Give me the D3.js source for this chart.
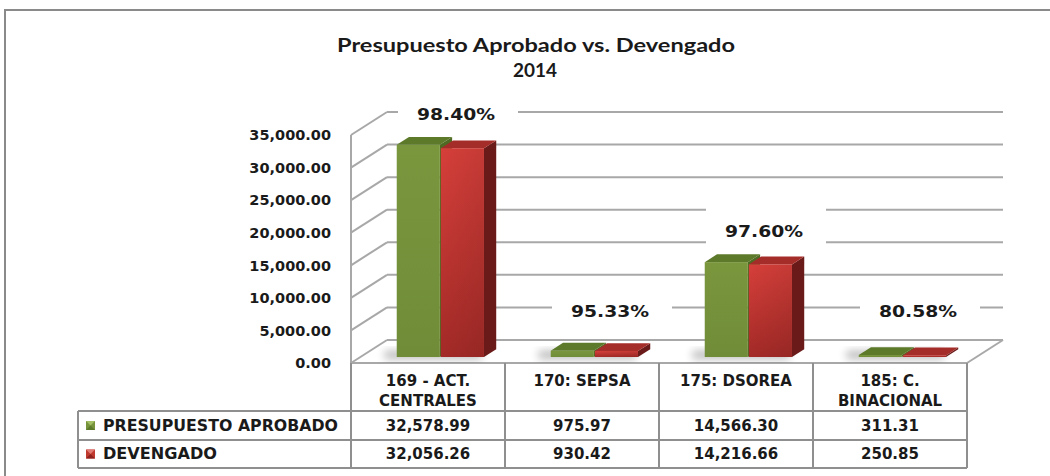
<!DOCTYPE html>
<html><head><meta charset="utf-8">
<script src="https://cdn.jsdelivr.net/npm/d3@7"></script>
<style>body{margin:0;background:#fff;}svg{display:block;}</style>
</head><body>
<svg id="c" width="1050" height="476"></svg>
<script>
const categories = [["169 - ACT.", "CENTRALES"], ["170: SEPSA"], ["175: DSOREA"], ["185: C.", "BINACIONAL"]];
const seriesNames = ["PRESUPUESTO APROBADO", "DEVENGADO"];
const aprobado = [32578.99, 975.97, 14566.30, 311.31];
const devengado = [32056.26, 930.42, 14216.66, 250.85];
const yTicks = [0, 5000, 10000, 15000, 20000, 25000, 30000, 35000];
const titleLines = ["Presupuesto Aprobado vs. Devengado", "2014"];

const svg = d3.select("#c");
const FONT = "'DejaVu Sans', Verdana, sans-serif";
const DX = 36, DY = 23;
const catKeys = categories.map((c, i) => "c" + i);
const x = d3.scaleBand().domain(catKeys).range([351, 967]).paddingInner(0);
const y = d3.scaleLinear().domain([0, 35000]).range([363, 135]);
const P = (px, v, z) => [px + z * DX, y(v) - z * DY];
const fmt = d3.format(",.2f");
const pct = d3.format(".2%");

const defs = svg.append("defs");
const gR = defs.append("linearGradient").attr("id", "gRed").attr("x1", 0).attr("y1", 0).attr("x2", 0).attr("y2", 1);
gR.append("stop").attr("offset", "0%").attr("stop-color", "#d63f3a");
gR.append("stop").attr("offset", "100%").attr("stop-color", "#a32a27");
const gRh = defs.append("linearGradient").attr("id", "gRedH").attr("x1", 0).attr("y1", 0).attr("x2", 1).attr("y2", 0);
gRh.append("stop").attr("offset", "0%").attr("stop-color", "#000").attr("stop-opacity", 0);
gRh.append("stop").attr("offset", "100%").attr("stop-color", "#000").attr("stop-opacity", 0.08);
const gG = defs.append("linearGradient").attr("id", "gGreen").attr("x1", 0).attr("y1", 0).attr("x2", 0).attr("y2", 1);
gG.append("stop").attr("offset", "0%").attr("stop-color", "#7a973e");
gG.append("stop").attr("offset", "100%").attr("stop-color", "#708c38");
const blur = defs.append("filter").attr("id", "blur").attr("x", "-50%").attr("y", "-50%").attr("width", "200%").attr("height", "200%");
blur.append("feGaussianBlur").attr("stdDeviation", 4);

// outer border
svg.append("rect").attr("x", 5).attr("y", 10).attr("width", 1060).attr("height", 480)
  .attr("fill", "none").attr("stroke", "#8a8a8a").attr("stroke-width", 2);

// title
const TF = "Lato, 'Open Sans', sans-serif";
svg.append("text").attr("x", 536).attr("y", 52).attr("text-anchor", "middle")
  .attr("font-family", TF).attr("font-weight", "bold").attr("font-size", 19)
  .attr("fill", "#1a1a1a").attr("textLength", 398).attr("lengthAdjust", "spacingAndGlyphs").text(titleLines[0]);
svg.append("text").attr("x", 535).attr("y", 77).attr("text-anchor", "middle")
  .attr("font-family", TF).attr("font-weight", "bold").attr("font-size", 19)
  .attr("fill", "#1a1a1a").attr("textLength", 44).attr("lengthAdjust", "spacingAndGlyphs").text(titleLines[1]);

const X0 = x.range()[0], X1 = x.range()[1];
const grid = svg.append("g").attr("stroke", "#a8a8a8").attr("stroke-width", 2).attr("fill", "none");
yTicks.forEach(v => {
  const a = P(X0, v, 0), b = P(X0, v, 1), c = P(X1, v, 1);
  grid.append("line").attr("x1", a[0]).attr("y1", a[1]).attr("x2", b[0]).attr("y2", b[1]);
  grid.append("line").attr("x1", b[0]).attr("y1", b[1]).attr("x2", c[0]).attr("y2", c[1]);
});
{
  const a = P(X0, 0, 0), b = P(X0, 35000, 0);
  grid.append("line").attr("x1", a[0]).attr("y1", a[1]).attr("x2", b[0]).attr("y2", b[1]);
  const c = P(X1, 0, 0), d = P(X1, 0, 1);
  grid.append("line").attr("x1", c[0]).attr("y1", c[1]).attr("x2", d[0]).attr("y2", d[1]);
  grid.append("line").attr("x1", a[0]).attr("y1", a[1]).attr("x2", c[0]).attr("y2", c[1]);
}

// y axis labels
svg.append("g").selectAll("text").data(yTicks).join("text")
  .attr("x", 331).attr("y", d => y(d)).attr("dy", "0.36em").attr("text-anchor", "end")
  .attr("font-family", FONT).attr("font-weight", "bold").attr("font-size", 14.5).attr("fill", "#1a1a1a")
  .text(d => fmt(d));

// percentage labels (with white masks)
const bw = x.bandwidth();
const lab = svg.append("g");
aprobado.forEach((v, i) => {
  const cx = x(catKeys[i]) + bw / 2 + 30;
  const ly = y(Math.max(v, 2300)) - 37;
  lab.append("rect").attr("x", cx - 60).attr("y", ly - 26).attr("width", 120).attr("height", 42).attr("fill", "#fff");
  lab.append("text").attr("x", cx - 2).attr("y", ly).attr("dy", "0.36em").attr("text-anchor", "middle")
    .attr("font-family", FONT).attr("font-weight", "bold").attr("font-size", 16).attr("fill", "#1a1a1a")
    .attr("textLength", 78).attr("lengthAdjust", "spacingAndGlyphs")
    .text(pct(devengado[i] / v));
});

// bars
const zf = 0.26, zb = 0.6;
const barW = bw * 0.28, gap = 1;
const bars = svg.append("g");
const colors = [
  {front: "url(#gGreen)", top: "#5d7a2b", side: "#4f6a22"},
  {front: "url(#gRed)", top: "#a52d29", side: "#6a1b19"}
];
const poly = pts => pts.map(p => p.join(",")).join(" ");
categories.forEach((c, i) => {
  const groupLeft = x(catKeys[i]) + (bw - 2 * barW - gap) / 2 + 3;
  {
    const a = P(groupLeft - 8, 0, zf + 0.05), b = P(groupLeft + 2 * barW + gap, 0, zf + 0.05);
    bars.append("rect").attr("x", a[0] - 6).attr("y", a[1] - 5).attr("width", b[0] - a[0] + 2).attr("height", 8)
      .attr("fill", "#000").attr("opacity", 0.28).attr("filter", "url(#blur)");
  }
  [aprobado[i], devengado[i]].forEach((v, s) => {
    const xl = groupLeft + s * (barW + gap), xr = xl + barW;
    const col = colors[s];
    const fbl = P(xl, 0, zf), ftl = P(xl, v, zf), ftr = P(xr, v, zf), fbr = P(xr, 0, zf);
    const btl = P(xl, v, zb), btr = P(xr, v, zb), bbr = P(xr, 0, zb);
    bars.append("polygon").attr("points", poly([fbr, ftr, btr, bbr])).attr("fill", col.side);
    bars.append("polygon").attr("points", poly([ftl, ftr, btr, btl])).attr("fill", col.top);
    bars.append("rect").attr("x", ftl[0]).attr("y", ftl[1]).attr("width", ftr[0] - ftl[0]).attr("height", fbl[1] - ftl[1])
      .attr("fill", col.front);
    if (s === 1) bars.append("rect").attr("x", ftl[0]).attr("y", ftl[1]).attr("width", ftr[0] - ftl[0]).attr("height", fbl[1] - ftl[1])
      .attr("fill", "url(#gRedH)");
  });
});

// data table
const T = svg.append("g").attr("stroke", "#8f8f8f").attr("stroke-width", 2).attr("fill", "none");
const rowTop = 363, hdrBot = 411, r1 = 440, r2 = 468, legL = 78;
[X0, ...catKeys.map(k => x(k) + bw)].forEach(xx => {
  T.append("line").attr("x1", xx).attr("y1", rowTop).attr("x2", xx).attr("y2", r2);
});
[hdrBot, r1, r2].forEach(yy => T.append("line").attr("x1", legL).attr("y1", yy).attr("x2", X1).attr("y2", yy));
T.append("line").attr("x1", legL).attr("y1", hdrBot).attr("x2", legL).attr("y2", r2);

const txt = svg.append("g").attr("font-family", FONT).attr("font-weight", "bold").attr("font-size", 15).attr("fill", "#1a1a1a");
categories.forEach((c, i) => {
  const cx = x(catKeys[i]) + bw / 2;
  c.forEach((line, j) => {
    txt.append("text").attr("x", cx).attr("y", 381 + j * 20).attr("dy", "0.36em").attr("text-anchor", "middle").text(line);
  });
  txt.append("text").attr("x", cx).attr("y", (hdrBot + r1) / 2).attr("dy", "0.36em").attr("text-anchor", "middle").text(fmt(aprobado[i]));
  txt.append("text").attr("x", cx).attr("y", (r1 + r2) / 2).attr("dy", "0.36em").attr("text-anchor", "middle").text(fmt(devengado[i]));
});
const legCols = [["#77933c", "#a4c064", "#5d7a2b"], ["#c0392f", "#e07a72", "#8d221f"]];
seriesNames.forEach((n, s) => {
  const cy = s === 0 ? (hdrBot + r1) / 2 : (r1 + r2) / 2;
  const ix = 86, iy = cy - 4.5, sz = 9;
  svg.append("rect").attr("x", ix).attr("y", iy).attr("width", sz).attr("height", sz).attr("fill", legCols[s][0]);
  svg.append("polygon").attr("points", poly([[ix, iy], [ix + sz, iy], [ix + sz / 2, iy + sz / 2]])).attr("fill", legCols[s][1]);
  svg.append("polygon").attr("points", poly([[ix, iy + sz], [ix + sz, iy + sz], [ix + sz / 2, iy + sz / 2]])).attr("fill", legCols[s][2]);
  txt.append("text").attr("x", 103).attr("y", cy).attr("dy", "0.36em").attr("text-anchor", "start")
    .attr("textLength", s === 0 ? 235 : 114).attr("lengthAdjust", "spacingAndGlyphs").text(n);
});
</script>
</body></html>
